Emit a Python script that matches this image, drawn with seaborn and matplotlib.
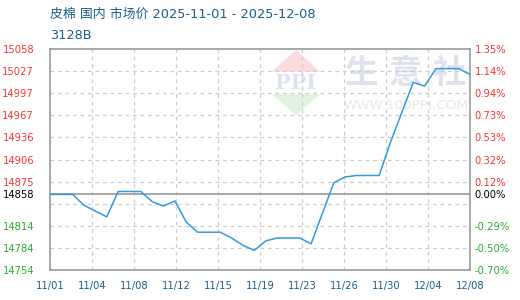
import matplotlib
matplotlib.use("Agg")
import matplotlib.pyplot as plt
from matplotlib.patches import Polygon
import seaborn as sns
import pandas as pd
import numpy as np

# ---- data ----
dates = pd.date_range("2025-11-01", "2025-12-08", freq="D")
prices = [14858, 14858, 14858, 14843, 14835, 14827, 14862, 14862, 14862, 14848,
          14842, 14849, 14820, 14806, 14806, 14806, 14798, 14788, 14781, 14794,
          14798, 14798, 14798, 14790, 14832, 14874, 14882, 14884, 14884, 14884,
          14930, 14971, 15012, 15007, 15031, 15031, 15031, 15023]
base_price = 14858
y_min, y_max = 14754, 15058
left_labels = ["14754", "14784", "14814", "14858", "14875", "14906",
               "14936", "14967", "14997", "15027", "15058"]
right_labels = ["-0.70%", "-0.50%", "-0.29%", "0.00%", "0.12%", "0.32%",
                "0.53%", "0.73%", "0.94%", "1.14%", "1.35%"]
x_tick_labels = ["11/01", "11/04", "11/08", "11/12", "11/15", "11/19",
                 "11/23", "11/26", "11/30", "12/04", "12/08"]
title_line1 = "皮棉 国内 市场价 2025-11-01 - 2025-12-08"
title_line2 = "3128B"

sns.set_style("white")
plt.rcParams["font.family"] = ["DejaVu Sans", "Noto Sans CJK SC"]

df = pd.DataFrame({"day": (dates - dates[0]).days, "price": prices})

fig = plt.figure(figsize=(5.2, 3.0), dpi=100)
ax = fig.add_axes([50/520, 1-270/300, 420/520, 221/300])

n_days = df["day"].max()
ax.set_xlim(0, n_days)
ax.set_ylim(y_min, y_max)

# watermark (decoration)
T = ax.transAxes
ax.add_patch(Polygon([(0.528, 0.897), (0.643, 0.897), (0.586, 0.995)], closed=True,
                     transform=T, facecolor="#fadcdc", edgecolor="none", zorder=0))
ax.add_patch(Polygon([(0.528, 0.795), (0.643, 0.795), (0.586, 0.701)], closed=True,
                     transform=T, facecolor="#dff1df", edgecolor="none", zorder=0))
ax.text(0.584, 0.845, "PPI", transform=T, ha="center", va="center", fontsize=15,
        fontweight="bold", color="#dde3ef", family=["DejaVu Serif"], zorder=0)
for cx, ch in zip([0.742, 0.846, 0.950], ["生", "意", "社"]):
    ax.text(cx, 0.889, ch, transform=T, ha="center", va="center", fontsize=24,
            fontweight="bold", color="#dde2ec", family=["Noto Sans CJK SC"], zorder=0)
ax.text(0.848, 0.744, "WWW.100PPI.COM", transform=T, ha="center", va="center",
        fontsize=9.7, color="#e8e8e8", zorder=0)

# grid
yt = np.linspace(y_min, y_max, 11)
xt = np.linspace(0, n_days, 11)
for v in yt[1:-1]:
    ax.axhline(v, color="#cccccc", lw=0.9, ls=(0, (3, 3)), zorder=1)
for v in xt[1:-1]:
    ax.axvline(v, color="#cccccc", lw=0.9, ls=(0, (3, 3)), zorder=1)
ax.axhline(base_price, color="#999999", lw=1.2, zorder=2)

sns.lineplot(data=df, x="day", y="price", ax=ax, color="#3399dd", lw=1.1, zorder=3)

for s in ax.spines.values():
    s.set_color("#999999")
    s.set_linewidth(1.2)

# left ticks: regular grid positions except the one replaced by the base price
tick_pos = sorted([v for i, v in enumerate(yt) if i != 3] + [base_price])
ax.set_yticks(tick_pos)
ax.set_yticklabels(left_labels)

def colour_for(v):
    if abs(v - base_price) < 0.5:
        return "black"
    return "#ff3333" if v > base_price else "#33aa33"

for lab, v in zip(ax.get_yticklabels(), tick_pos):
    lab.set_color(colour_for(v))
ax.tick_params(axis="y", length=0, pad=11.5, labelsize=7.2)

ax.set_xticks(xt)
ax.set_xticklabels(x_tick_labels)
ax.tick_params(axis="x", length=0, pad=8, labelsize=7.2)
for lab in ax.get_xticklabels():
    lab.set_color("#1b5f8f")
ax.set_xlabel("")
ax.set_ylabel("")

# right axis
ax2 = ax.twinx()
ax2.set_ylim(y_min, y_max)
ax2.set_yticks(tick_pos)
ax2.set_yticklabels(right_labels)
for lab, v in zip(ax2.get_yticklabels(), tick_pos):
    lab.set_color(colour_for(v))
ax2.tick_params(axis="y", length=0, pad=3.5, labelsize=7.2)
for s in ax2.spines.values():
    s.set_visible(False)

fig.text(50/520, 1-14.5/300, title_line1, ha="left", va="center", fontsize=9.3,
         color="#1b5f8f", family=["DejaVu Sans", "Noto Sans CJK SC"])
fig.text(50/520, 1-35.5/300, title_line2, ha="left", va="center", fontsize=9.3,
         color="#1b5f8f", family=["DejaVu Sans", "Noto Sans CJK SC"])

fig.savefig("out.png", dpi=100)
